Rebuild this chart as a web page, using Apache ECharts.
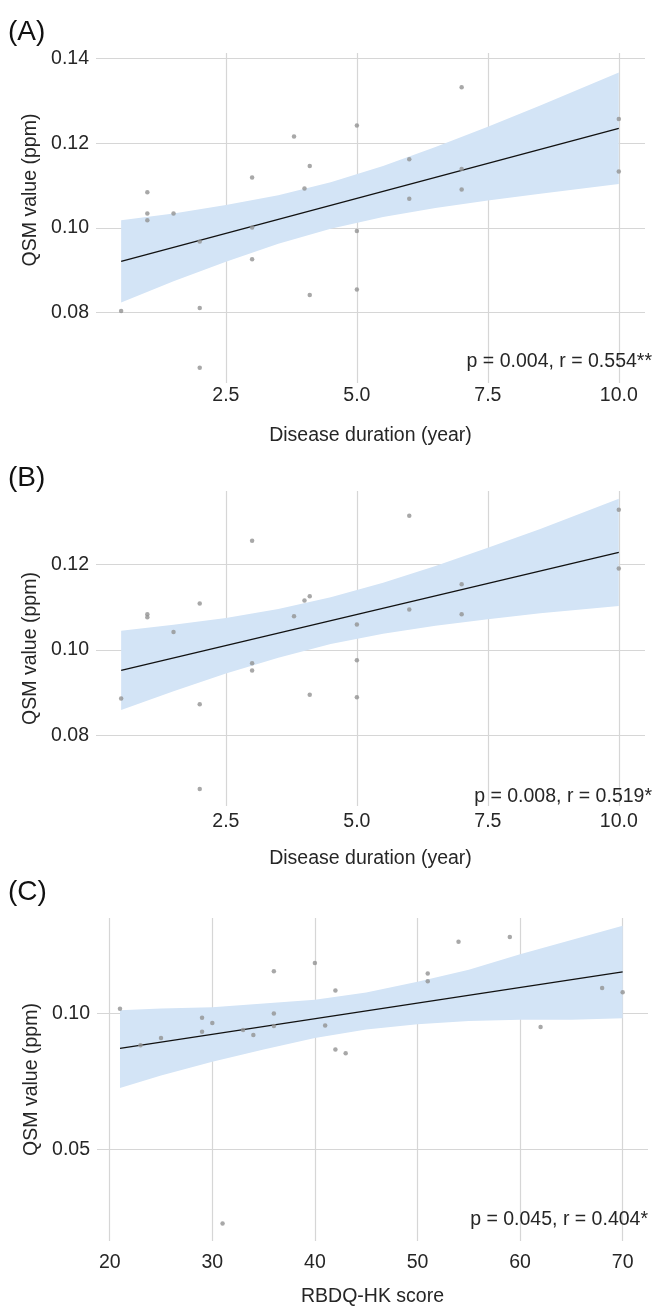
<!DOCTYPE html>
<html>
<head>
<meta charset="utf-8">
<script src="https://cdn.jsdelivr.net/npm/echarts@6/dist/echarts.min.js"></script>
<style>
  html, body { margin: 0; padding: 0; background: #fff; }
  #chart { width: 654px; height: 1308px; }
</style>
</head>
<body>
<div id="chart"></div>
<script>
// ---- panel A : disease duration vs QSM ----
var durA = [0.5, 1, 1, 1, 1.5, 2, 2, 2, 3, 3, 3, 3.8, 4, 4.1, 4.1, 5, 5, 5, 6, 6, 7, 7, 7, 10, 10];
var qsmA = [0.0804, 0.1084, 0.1034, 0.1018, 0.1034, 0.0968, 0.0811, 0.0670, 0.1119, 0.1001, 0.0926,
            0.1216, 0.1093, 0.1146, 0.0842, 0.1242, 0.0993, 0.0855, 0.1162, 0.1069, 0.1332, 0.1139,
            0.1091, 0.1257, 0.1133];
var fitXA = [0.5, 10];
var fitYA = [0.0921, 0.1235];
var bandXA = [0.5, 1.5, 2.5, 3.5, 4.5, 5.5, 6.5, 7.5, 8.5, 10];
var bandLoA = [0.0824, 0.0874, 0.0920, 0.0963, 0.0998, 0.1026, 0.1047, 0.1065, 0.1081, 0.1104];
var bandHiA = [0.1018, 0.1034, 0.1054, 0.1077, 0.1108, 0.1146, 0.1191, 0.1239, 0.1289, 0.1367];

// ---- panel B : disease duration vs QSM ----
var durB = [0.5, 1, 1, 1.5, 2, 2, 2, 3, 3, 3, 3.8, 4, 4.1, 4.1, 5, 5, 5, 6, 6, 7, 7, 10, 10];
var qsmB = [0.0886, 0.1084, 0.1077, 0.1042, 0.1109, 0.0873, 0.0674, 0.1256, 0.0969, 0.0952, 0.1079,
            0.1116, 0.1126, 0.0895, 0.1060, 0.0976, 0.0889, 0.1315, 0.1095, 0.1154, 0.1084, 0.1329,
            0.1191];
var fitXB = [0.5, 10];
var fitYB = [0.0952, 0.1229];
var bandXB = [0.5, 1.5, 2.5, 3.5, 4.5, 5.5, 6.5, 7.5, 8.5, 10];
var bandLoB = [0.0859, 0.0903, 0.0945, 0.0982, 0.1014, 0.1038, 0.1057, 0.1072, 0.1086, 0.1103];
var bandHiB = [0.1045, 0.1059, 0.1075, 0.1096, 0.1124, 0.1158, 0.1197, 0.1240, 0.1284, 0.1355];

// ---- panel C : RBDQ-HK score vs QSM ----
var scoreC = [21, 23, 25, 29, 29, 30, 31, 33, 34, 36, 36, 36, 40, 41, 42, 42, 43, 51, 51, 54, 59, 62, 68, 70];
var qsmC = [0.1017, 0.0883, 0.0910, 0.0984, 0.0933, 0.0965, 0.0229, 0.0939, 0.0921, 0.1155, 0.1000,
            0.0954, 0.1185, 0.0956, 0.1084, 0.0868, 0.0854, 0.1146, 0.1118, 0.1263, 0.1280, 0.0950,
            0.1093, 0.1078];
var fitXC = [21, 70];
var fitYC = [0.0872, 0.1152];
var bandXC = [21, 25, 30, 35, 40, 45, 50, 55, 60, 65, 70];
var bandLoC = [0.0726, 0.0772, 0.0823, 0.0868, 0.0910, 0.0941, 0.0960, 0.0972, 0.0977, 0.0977, 0.0982];
var bandHiC = [0.1012, 0.1018, 0.1023, 0.1036, 0.1050, 0.1077, 0.1116, 0.1160, 0.1217, 0.1269, 0.1322];

var FONT = "'Liberation Sans', Arial, sans-serif";
var TXT = '#262626';
var GRID_LINE = '#d6d6d6';

var panels = [
  {
    tag: '(A)', tagTop: 18, stat: 'p = 0.004, r = 0.554**', statTop: 352, statRight: 2,
    grid: { left: 96, top: 53, width: 549, height: 330 },
    xMin: 0.02, xMax: 10.5, xStep: 2.5, xDigits: 1, xName: 'Disease duration (year)', xMargin: 3, xNameGap: 43,
    yMin: 0.0634, yMax: 0.1413, yStep: 0.02, yNameShift: 56,
    x: durA, y: qsmA, fitX: fitXA, fitY: fitYA, bandX: bandXA, bandLo: bandLoA, bandHi: bandHiA
  },
  {
    tag: '(B)', tagTop: 464, stat: 'p = 0.008, r = 0.519*', statTop: 787, statRight: 2,
    grid: { left: 96, top: 491, width: 549, height: 315 },
    xMin: 0.02, xMax: 10.5, xStep: 2.5, xDigits: 1, xName: 'Disease duration (year)', xMargin: 6, xNameGap: 43,
    yMin: 0.0634, yMax: 0.1373, yStep: 0.02, yNameShift: 0,
    x: durB, y: qsmB, fitX: fitXB, fitY: fitYB, bandX: bandXB, bandLo: bandLoB, bandHi: bandHiB
  },
  {
    tag: '(C)', tagTop: 878, stat: 'p = 0.045, r = 0.404*', statTop: 1210, statRight: 6,
    grid: { left: 97, top: 918, width: 551, height: 325 },
    xMin: 18.76, xMax: 72.47, xStep: 10, xDigits: 0, xName: 'RBDQ-HK score', xMargin: 12, xNameGap: 46,
    yMin: 0.0165, yMax: 0.135, yStep: 0.05, yNameShift: 0,
    x: scoreC, y: qsmC, fitX: fitXC, fitY: fitYC, bandX: bandXC, bandLo: bandLoC, bandHi: bandHiC
  }
];

var grids = [], xAxes = [], yAxes = [], series = [], titles = [];

panels.forEach(function (p, i) {
  grids.push(p.grid);

  xAxes.push({
    type: 'value', gridIndex: i, min: p.xMin, max: p.xMax,
    minInterval: p.xStep, maxInterval: p.xStep,
    name: p.xName, nameLocation: 'middle', nameGap: p.xNameGap,
    nameTextStyle: { fontFamily: FONT, fontSize: 19.5, color: TXT },
    axisLine: { show: false }, axisTick: { show: false },
    axisLabel: {
      fontFamily: FONT, fontSize: 19.5, color: TXT, margin: p.xMargin,
      showMinLabel: false, showMaxLabel: false,
      formatter: function (v) { return v.toFixed(p.xDigits); }
    },
    splitLine: { show: true, showMinLine: false, showMaxLine: false, lineStyle: { color: GRID_LINE, width: 1.2 } }
  });

  yAxes.push({
    type: 'value', gridIndex: i, min: p.yMin, max: p.yMax,
    minInterval: p.yStep, maxInterval: p.yStep,
    name: 'QSM value (ppm)', nameLocation: 'middle', nameGap: 50,
    nameTextStyle: { fontFamily: FONT, fontSize: 19.5, color: TXT, padding: [0, 0, 0, p.yNameShift] },
    axisLine: { show: false }, axisTick: { show: false },
    axisLabel: {
      fontFamily: FONT, fontSize: 19.5, color: TXT, margin: 7,
      showMinLabel: false, showMaxLabel: false,
      formatter: function (v) { return v.toFixed(2); }
    },
    splitLine: { show: true, showMinLine: false, showMaxLine: false, lineStyle: { color: GRID_LINE, width: 1.2 } }
  });

  // confidence band as one polygon
  series.push({
    type: 'custom', xAxisIndex: i, yAxisIndex: i, silent: true, z: 1,
    data: p.bandX.map(function (bx, k) { return [bx, p.bandLo[k], p.bandHi[k]]; }),
    encode: { x: 0, y: [1, 2] },
    renderItem: function (params, api) {
      if (params.dataIndex !== 0) return;
      var pts = [];
      for (var k = 0; k < p.bandX.length; k++) pts.push(api.coord([p.bandX[k], p.bandHi[k]]));
      for (var k2 = p.bandX.length - 1; k2 >= 0; k2--) pts.push(api.coord([p.bandX[k2], p.bandLo[k2]]));
      return { type: 'polygon', shape: { points: pts }, style: { fill: '#d3e4f6' } };
    }
  });

  // regression line
  series.push({
    type: 'line', xAxisIndex: i, yAxisIndex: i, z: 3, silent: true,
    data: p.fitX.map(function (fx, k) { return [fx, p.fitY[k]]; }),
    symbol: 'none', lineStyle: { color: '#111', width: 1.3 }
  });

  // observations
  series.push({
    type: 'scatter', xAxisIndex: i, yAxisIndex: i, z: 4,
    data: p.x.map(function (xv, k) { return [xv, p.y[k]]; }),
    symbol: 'circle', symbolSize: 4.5,
    itemStyle: { color: '#929292' }
  });

  titles.push({
    text: p.tag, left: 8, top: p.tagTop, padding: 0,
    textStyle: { fontFamily: FONT, fontSize: 28, fontWeight: 'normal', color: '#111' }
  });
  titles.push({
    text: p.stat, right: p.statRight, top: p.statTop, padding: 0,
    textStyle: { fontFamily: FONT, fontSize: 19.5, fontWeight: 'normal', color: TXT }
  });
});

var myChart = echarts.init(document.getElementById('chart'));
myChart.setOption({
  backgroundColor: '#fff',
  animation: false,
  title: titles,
  grid: grids,
  xAxis: xAxes,
  yAxis: yAxes,
  series: series
});
</script>
</body>
</html>
